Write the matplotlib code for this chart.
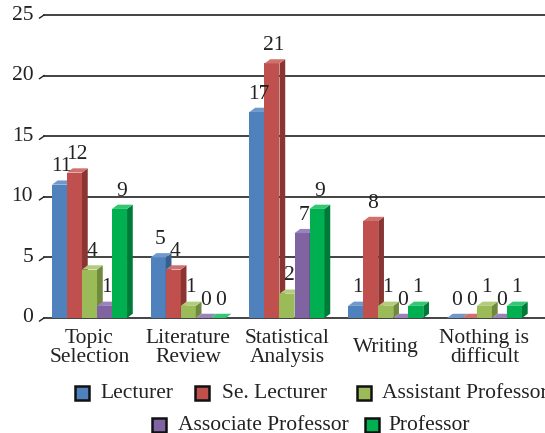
import numpy as np
import matplotlib.pyplot as plt
from matplotlib.patches import Polygon, Rectangle

# ----------------------------
# Data
# ----------------------------
CATEGORIES = ["Topic\nSelection", "Literature\nReview", "Statistical\nAnalysis",
              "Writing", "Nothing is\ndifficult"]
SERIES = ["Lecturer", "Se. Lecturer", "Assistant Professor",
          "Associate Professor", "Professor"]
LECTURER     = [11, 5, 17, 1, 0]
SE_LECTURER  = [12, 4, 21, 8, 0]
ASSISTANT    = [4, 1, 2, 1, 1]
ASSOCIATE    = [1, 0, 7, 0, 0]
PROFESSOR    = [9, 0, 9, 1, 1]
Y_TICKS      = [0, 5, 10, 15, 20, 25]

# ----------------------------
# Style
# ----------------------------
FRONT = ["#4F81BD", "#C0504D", "#9BBB59", "#8064A2", "#00B050"]
SIDE  = ["#375E8C", "#8A3532", "#6F8A3C", "#5B4478", "#007A38"]
TOP   = ["#6F98CC", "#D0716E", "#B2CC7C", "#9A82BA", "#33C673"]
W  = 0.152   # bar width (group spacing = 1)
DX = 0.058   # depth offset x
DY = 0.35    # depth offset y

FONT = dict(family="Liberation Serif", fontsize=15.5, color="#222222")

fig = plt.figure(figsize=(5.45, 4.33), dpi=100)
ax = fig.add_axes([44 / 545, 115 / 433, (545 - 44) / 545, 303 / 433])
ax.set_xlim(-0.461, 4.613)
ax.set_ylim(0, 25)
for s in ax.spines.values():
    s.set_visible(False)
ax.set_xticks([])
ax.set_yticks([])

# gridlines + slanted ticks
for t in Y_TICKS:
    ax.plot([-0.461, 4.613], [t, t], color="#222222", lw=1.2, zorder=0, clip_on=False)
    ax.plot([-0.461 - 0.045, -0.461], [t - 0.25, t], color="#222222", lw=1.0, clip_on=False)
    ax.text(-0.461 - 0.11, t, str(t), ha="right", va="center", **FONT)

data = [LECTURER, SE_LECTURER, ASSISTANT, ASSOCIATE, PROFESSOR]
x = np.arange(len(CATEGORIES))
for k, vals in enumerate(data):
    left = x - 2.5 * W + k * W
    z = 2 + k
    ax.bar(left, vals, width=W, align="edge", color=FRONT[k], lw=0, zorder=z)
    for xl, h in zip(left, vals):
        side = [(xl + W, 0), (xl + W + DX, DY), (xl + W + DX, h + DY), (xl + W, h)]
        top = [(xl, h), (xl + W, h), (xl + W + DX, h + DY), (xl + DX, h + DY)]
        ax.add_patch(Polygon(side, closed=True, fc=SIDE[k], ec="none", zorder=z))
        ax.add_patch(Polygon(top, closed=True, fc=TOP[k], ec="none", zorder=z))
        ax.annotate(str(h), (xl + W / 2 + DX / 2, h + DY), xytext=(-0.5, 3),
                    textcoords="offset points", ha="center", va="bottom",
                    zorder=10, **FONT)

# category labels
for i, lab in enumerate(CATEGORIES):
    ax.text(i, -0.099, lab, transform=ax.get_xaxis_transform(), ha="center",
            va="center", linespacing=0.95, **FONT)

# legend (manual, two rows)
LEG_POS = [(75, 393, 100), (195, 393, 222), (357, 393, 382),
           (152, 425, 178), (365, 425, 388)]
for k, (mx, my, tx) in enumerate(LEG_POS):
    fig.patches.append(Rectangle((mx / 545, (433 - my - 7) / 433), 14 / 545, 14 / 433,
                                 transform=fig.transFigure, fc=FRONT[k],
                                 ec="#111111", lw=1.8))
    fig.text(tx / 545, (433 - my) / 433, SERIES[k], ha="left", va="center", **FONT)

fig.savefig("out.png", dpi=100)
